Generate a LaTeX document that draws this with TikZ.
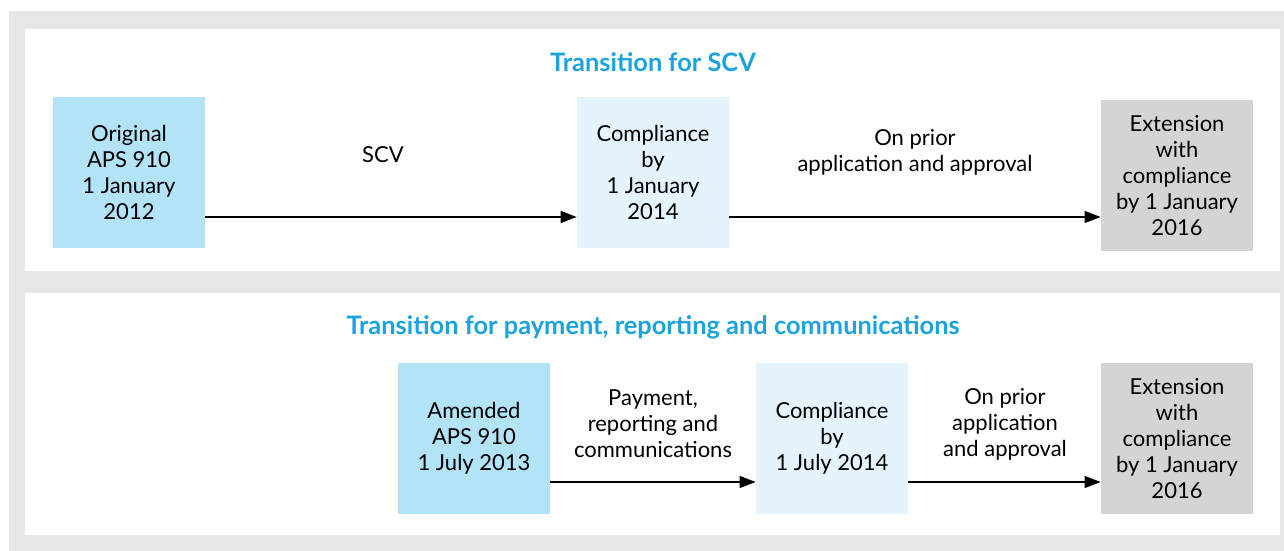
\documentclass[tikz,border=0pt]{standalone}
\usepackage{fontspec}
\setmainfont{Lato}
\usepackage{tikz}
\usetikzlibrary{arrows.meta}
\usepackage{xcolor}
\definecolor{panelgray}{HTML}{E6E7E8}
\definecolor{boxblue}{HTML}{B3E3F6}
\definecolor{boxpale}{HTML}{E5F4FC}
\definecolor{boxgray}{HTML}{D3D4D5}
\definecolor{titleblue}{HTML}{1AA3DC}

\begin{document}
\begin{tikzpicture}[x=0.5pt, y=0.5pt, >={Triangle[length=8pt,width=6pt]},
  stage/.style={minimum width=76pt, minimum height=75.5pt, inner sep=0pt, align=center, font=\fontsize{11}{13}\selectfont},
  arrtext/.style={align=center, inner sep=0pt, font=\fontsize{11}{13}\selectfont},
  heading/.style={text=titleblue, inner sep=0pt, font=\fontsize{12.7}{15}\selectfont\bfseries},
  flow/.style={->, line width=0.65pt}]

\useasboundingbox (0,0) rectangle (1284,551);
\fill[panelgray] (9,0) rectangle (1284,540);
\fill[white] (25,280) rectangle (1280,522);
\fill[white] (25,16) rectangle (1280,258);

% SCV
\node[heading] (h1) at (653,489) {Transition for SCV};
\node[stage, fill=boxblue] (orig) at (129,378.5) {Original\\APS 910\\1 January\\2012};
\node[stage, fill=boxpale] (comp1) at (653,378.5) {Compliance\\by\\1 January\\2014};
\node[stage, fill=boxgray] (ext1) at (1177,375) {Extension\\with\\compliance\\by 1 January\\2016};
\coordinate (a1) at (0,334);
\draw[flow] (orig.east |- a1) -- (comp1.west |- a1);
\draw[flow] (comp1.east |- a1) -- (ext1.west |- a1);
\node[arrtext] (scv) at (383,396) {SCV};
\node[arrtext] (prior1) at (915,399) {On prior\\application and approval};

% payment, reporting and communications
\node[heading] (h2) at (653,224) {Transition for payment, reporting and communications};
\node[stage, fill=boxblue] (amend) at (474,112.5) {Amended\\APS 910\\1 July 2013};
\node[stage, fill=boxpale] (comp2) at (832,112.5) {Compliance\\by\\1 July 2014};
\node[stage, fill=boxgray] (ext2) at (1177,112.5) {Extension\\with\\compliance\\by 1 January\\2016};
\coordinate (a2) at (0,69);
\draw[flow] (amend.east |- a2) -- (comp2.west |- a2);
\draw[flow] (comp2.east |- a2) -- (ext2.west |- a2);
\node[arrtext] (pay) at (653,127) {Payment,\\reporting and\\communications};
\node[arrtext] (prior2) at (1005,127) {On prior\\application\\and approval};

\end{tikzpicture}
\end{document}
